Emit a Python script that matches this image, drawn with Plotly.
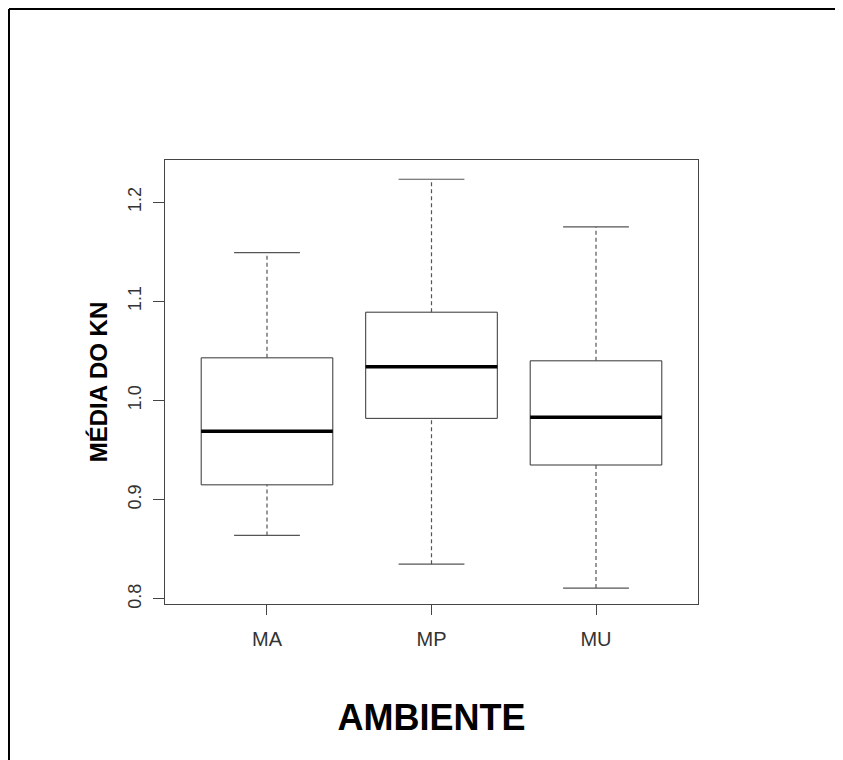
import plotly.graph_objects as go

# ---- data ----
categories = ["MA", "MP", "MU"]
positions = [1, 2, 3]
lower_whisker = [0.864, 0.835, 0.811]
q1 = [0.915, 0.982, 0.935]
median = [0.969, 1.034, 0.983]
q3 = [1.043, 1.089, 1.040]
upper_whisker = [1.149, 1.223, 1.175]
y_ticks = [0.8, 0.9, 1.0, 1.1, 1.2]
y_tick_labels = ["0.8", "0.9", "1.0", "1.1", "1.2"]

BOX_HALF = 0.4
CAP_HALF = 0.2
FONT = "Liberation Sans, Arial, sans-serif"

fig = go.Figure()

# boxes (quartiles)
fig.add_trace(go.Box(
    x=positions, q1=q1, median=median, q3=q3,
    lowerfence=q1, upperfence=q3,
    width=2 * BOX_HALF, whiskerwidth=0,
    fillcolor="white", line=dict(color="#333333", width=1),
    boxpoints=False, showlegend=False, hoverinfo="skip",
))

# dashed whiskers
wx, wy = [], []
for p, lo, a, b, hi in zip(positions, lower_whisker, q1, q3, upper_whisker):
    wx += [p, p, None, p, p, None]
    wy += [lo, a, None, b, hi, None]
fig.add_trace(go.Scatter(x=wx, y=wy, mode="lines",
                         line=dict(color="#555555", width=1.2, dash="4px,3px"),
                         showlegend=False, hoverinfo="skip"))

# whisker caps
cx, cy = [], []
for p, lo, hi in zip(positions, lower_whisker, upper_whisker):
    cx += [p - CAP_HALF, p + CAP_HALF, None, p - CAP_HALF, p + CAP_HALF, None]
    cy += [lo, lo, None, hi, hi, None]
fig.add_trace(go.Scatter(x=cx, y=cy, mode="lines",
                         line=dict(color="#555555", width=1.2),
                         showlegend=False, hoverinfo="skip"))

# thick medians
mx, my = [], []
for p, m in zip(positions, median):
    mx += [p - BOX_HALF, p + BOX_HALF, None]
    my += [m, m, None]
fig.add_trace(go.Scatter(x=mx, y=my, mode="lines",
                         line=dict(color="black", width=3.5),
                         showlegend=False, hoverinfo="skip"))

frame = dict(color="black", width=2)
fig.update_layout(
    width=843, height=760,
    margin=dict(l=157, r=153, t=152, b=164),
    paper_bgcolor="white", plot_bgcolor="white",
    showlegend=False,
    font=dict(family=FONT, color="#333333"),
    shapes=[
        dict(type="line", xref="paper", yref="paper",
             x0=-0.2927, x1=-0.2927, y0=-0.6, y1=1.340, line=frame, layer="below"),
        dict(type="line", xref="paper", yref="paper",
             x0=-0.2927, x1=1.6, y0=1.340, y1=1.340, line=frame, layer="below"),
    ],
)

fig.update_xaxes(
    range=[0.38, 3.62], tickvals=positions, ticktext=categories,
    showline=True, mirror=True, linecolor="#444444", linewidth=1,
    ticks="outside", ticklen=10, tickcolor="#444444",
    showgrid=False, zeroline=False,
    tickfont=dict(size=20, color="#333333"), ticklabelstandoff=7,
    title=dict(text="<b>AMBIENTE</b>", standoff=55,
               font=dict(family=FONT, size=36, color="black")),
)
fig.update_yaxes(
    range=[0.7949, 1.2424], tickvals=y_ticks, ticktext=y_tick_labels,
    showline=True, mirror=True, linecolor="#444444", linewidth=1,
    ticks="outside", ticklen=11, tickcolor="#444444",
    showgrid=False, zeroline=False, tickangle=-90,
    tickfont=dict(size=18, color="#333333"), ticklabelstandoff=5,
    title=dict(text="<b>MÉDIA DO KN</b>", standoff=10,
               font=dict(family=FONT, size=24, color="black")),
)

fig.write_html("out.html")
